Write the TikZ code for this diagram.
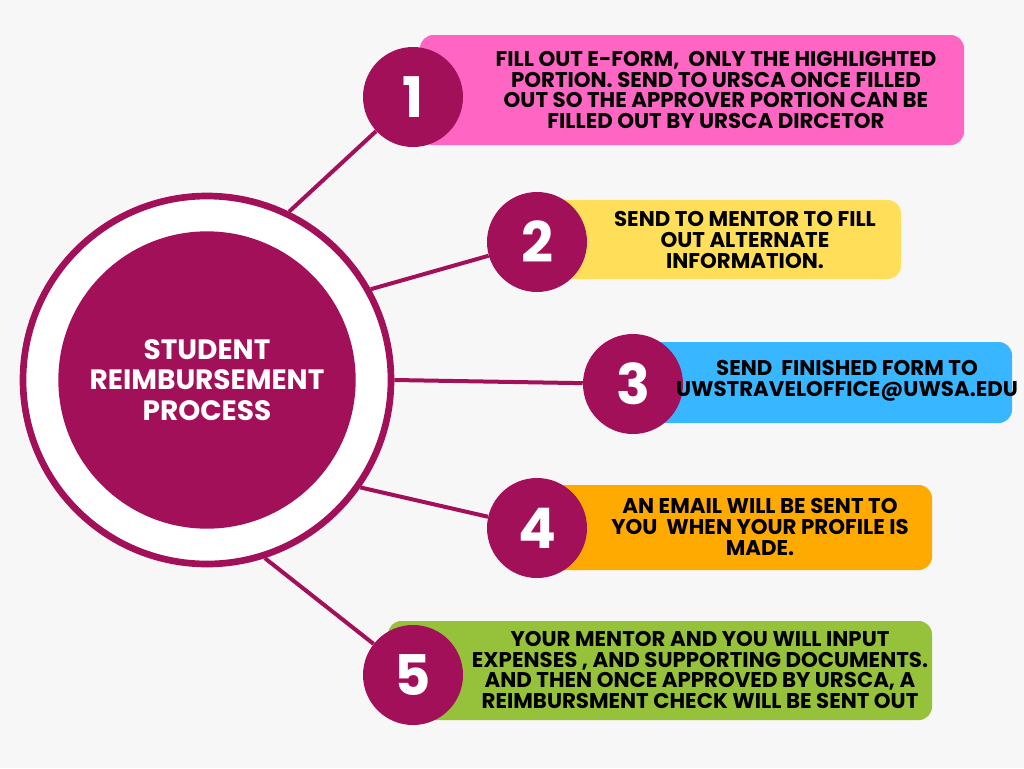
\documentclass[tikz,border=0pt]{standalone}
\usepackage{fontspec}
\setmainfont{Poppins}
\usetikzlibrary{positioning,backgrounds}
\definecolor{plum}{HTML}{A3105A}
\definecolor{bgray}{HTML}{F7F7F7}
\definecolor{pinkbox}{HTML}{FF66C4}
\definecolor{yellowbox}{HTML}{FFDE59}
\definecolor{bluebox}{HTML}{38B6FF}
\definecolor{orangebox}{HTML}{FFAA00}
\definecolor{greenbox}{HTML}{96C13A}
\begin{document}
\begin{tikzpicture}[x=0.75pt, y=-0.75pt, font=\bfseries]
    \tikzset{stepcircle/.style={circle, fill=plum, text=white, minimum size=75pt, inner sep=0, font=\bfseries\fontsize{42}{42}\selectfont},
             stepbox/.style={rounded corners=10pt, inner sep=0, fill=#1},
             steptext/.style={align=center, font=\bfseries\fontsize{16}{15.5}\selectfont},
             spoke/.style={draw=plum, line width=3pt}}

    % boxes behind number circles
    \fill[stepbox=pinkbox]   (420,35)  rectangle (964,145);
    \fill[stepbox=yellowbox] (545,200) rectangle (901,279);
    \fill[stepbox=bluebox]   (640,342) rectangle (1012,423);
    \fill[stepbox=orangebox] (545,485) rectangle (932,570);
    \fill[stepbox=greenbox]  (388,621) rectangle (932,720);

    \node[circle, draw=plum, line width=5pt, fill=white, minimum size=276pt] (ring) at (207,380) {};
    \node[circle, fill=plum, text=white, minimum size=223pt, align=center,
          font=\bfseries\fontsize{21}{23}\selectfont] (main) at (207,380) {STUDENT\\REIMBURSEMENT\\PROCESS};

    \node[stepcircle] (n1) at (413,97)  {1};
    \node[stepcircle] (n2) at (537,242) {2};
    \node[stepcircle] (n3) at (633,384) {3};
    \node[stepcircle] (n4) at (537,528) {4};
    \node[stepcircle] (n5) at (413,675) {5};

    \begin{scope}[on background layer]
      \fill[bgray] (0,0) rectangle (1024,768);
      \draw[spoke] (ring.64)  -- (n1);
      \draw[spoke] (ring.29)  -- (n2);
      \draw[spoke] (ring.0)   -- (n3);
      \draw[spoke] (ring.-35) -- (n4);
      \draw[spoke] (ring.-72) -- (n5);
    \end{scope}

    \node[steptext] (t1) at (716,90)  {FILL OUT E-FORM,\ \ ONLY THE HIGHLIGHTED\\PORTION. SEND TO URSCA ONCE FILLED\\OUT SO THE APPROVER PORTION CAN BE\\FILLED OUT BY URSCA DIRCETOR};
    \node[steptext] (t2) at (745,240) {SEND TO MENTOR TO FILL\\OUT ALTERNATE\\INFORMATION.};
    \node[steptext] (t3) at (847,381) {SEND\ \ FINISHED FORM TO\\UWSTRAVELOFFICE@UWSA.EDU};
    \node[steptext] (t4) at (760,527) {AN EMAIL WILL BE SENT TO\\YOU\ \ WHEN YOUR PROFILE IS\\MADE.};
    \node[steptext] (t5) at (700,670) {YOUR MENTOR AND YOU WILL INPUT\\EXPENSES , AND SUPPORTING DOCUMENTS.\\AND THEN ONCE APPROVED BY URSCA, A\\REIMBURSMENT CHECK WILL BE SENT OUT};
\end{tikzpicture}
\end{document}
